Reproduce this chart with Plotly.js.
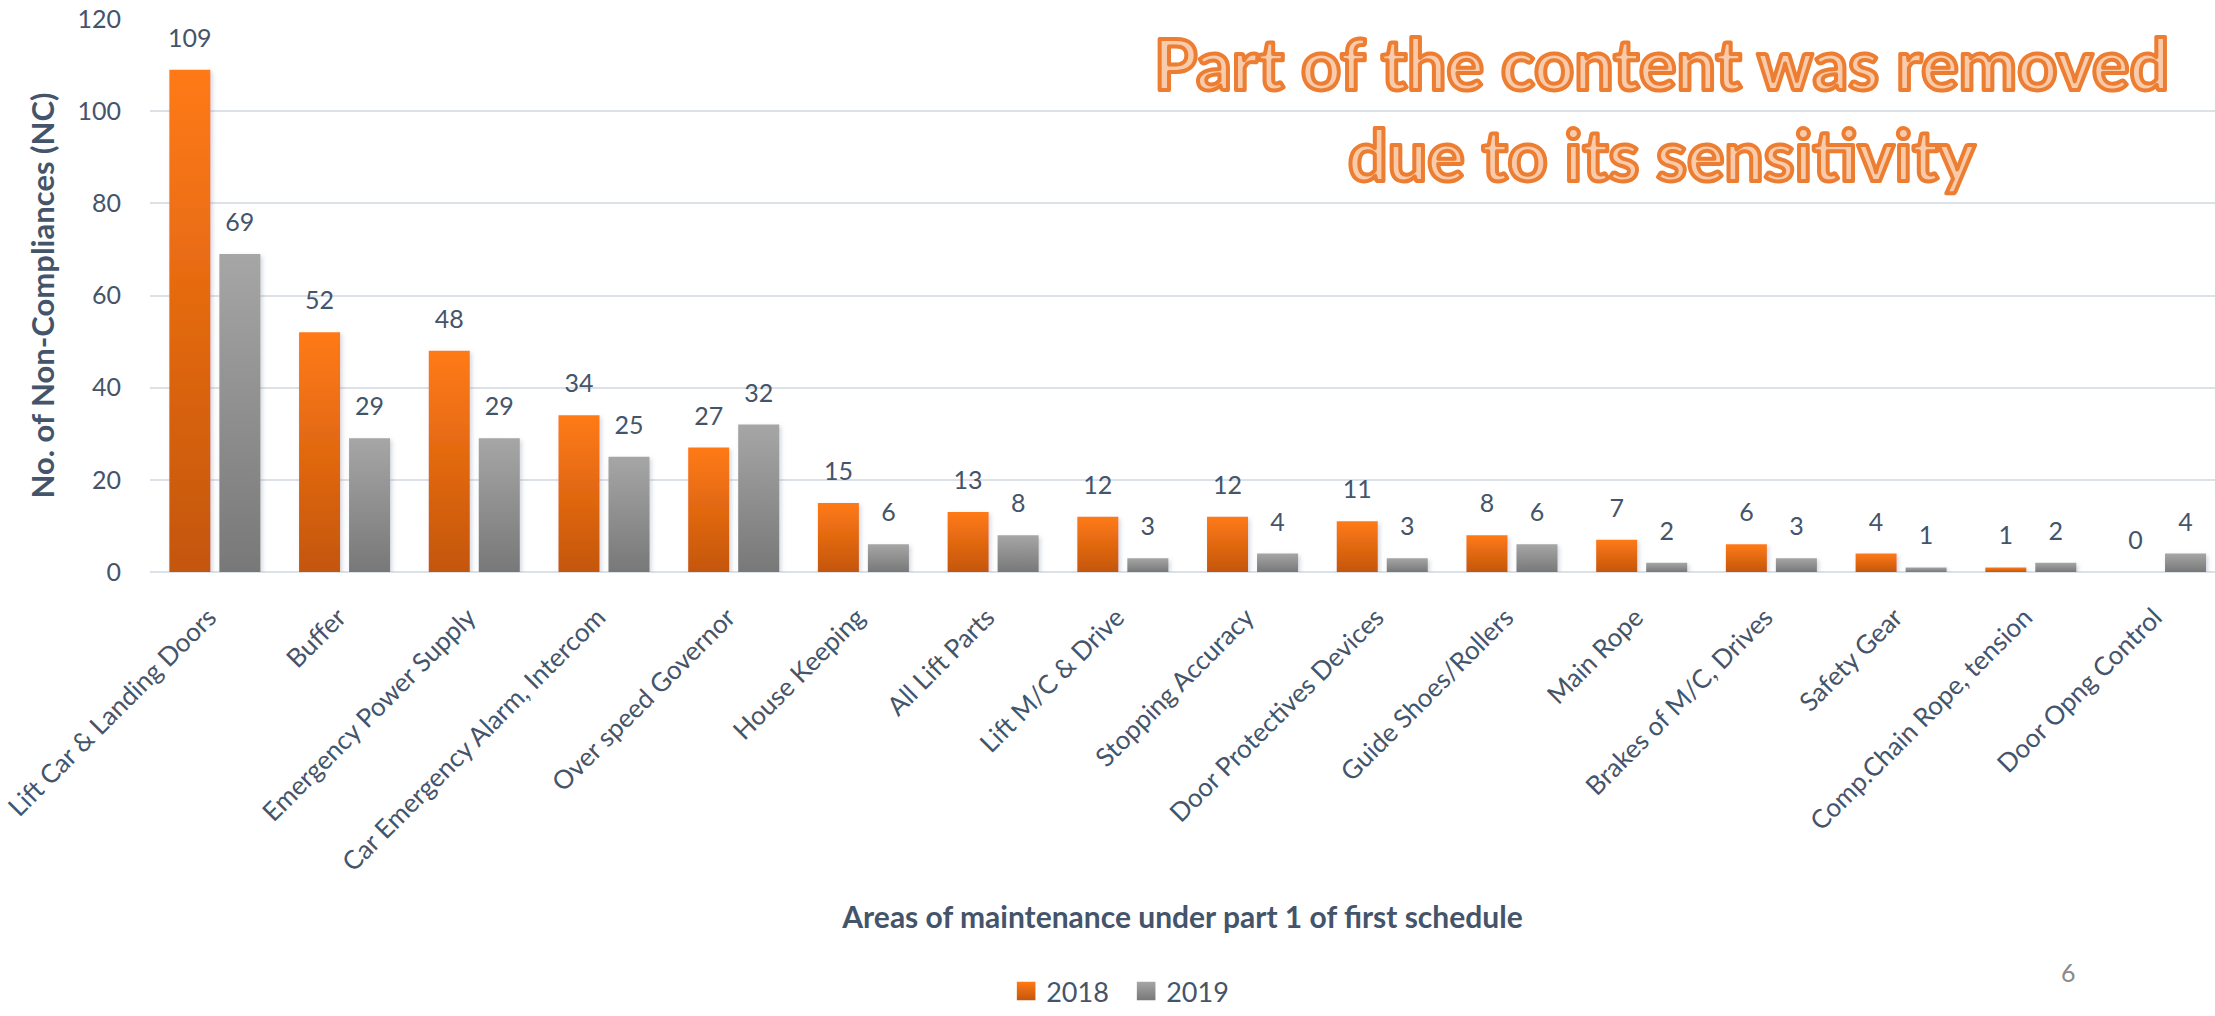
<!DOCTYPE html>
<html>
<head>
<meta charset="utf-8">
<script src="https://cdn.plot.ly/plotly-3.0.1.min.js"></script>
<style>
  html, body { margin: 0; padding: 0; background: #ffffff; }
  #chart { width: 2215px; height: 1016px; }
</style>
</head>
<body>
<div id="chart"></div>
<script>
// ---- Data ----
const categories = [
  "Lift Car & Landing Doors",
  "Buffer",
  "Emergency Power Supply",
  "Car Emergency Alarm, Intercom",
  "Over speed Governor",
  "House Keeping",
  "All Lift Parts",
  "Lift M/C & Drive",
  "Stopping Accuracy",
  "Door Protectives Devices",
  "Guide Shoes/Rollers",
  "Main Rope",
  "Brakes of M/C, Drives",
  "Safety Gear",
  "Comp.Chain Rope, tension",
  "Door Opng Control"
];
const values2018 = [109, 52, 48, 34, 27, 15, 13, 12, 12, 11, 8, 7, 6, 4, 1, 0];
const values2019 = [69, 29, 29, 25, 32, 6, 8, 3, 4, 3, 6, 2, 3, 1, 2, 4];
const seriesNames = ["2018", "2019"];
const yTickVals = [0, 20, 40, 60, 80, 100, 120];

const textColor = "#44546A";
const fontFamily = "Lato, 'Open Sans', sans-serif";

const traces = [
  {
    type: "bar",
    name: seriesNames[0],
    x: categories,
    y: values2018,
    text: values2018.map(String),
    textposition: "outside",
    constraintext: "none",
    cliponaxis: false,
    textfont: { family: fontFamily, size: 25, color: textColor },
    marker: { color: "#E8700F", line: { width: 0 } },
    hoverinfo: "x+y+name"
  },
  {
    type: "bar",
    name: seriesNames[1],
    x: categories,
    y: values2019,
    text: values2019.map(String),
    textposition: "outside",
    constraintext: "none",
    cliponaxis: false,
    textfont: { family: fontFamily, size: 25, color: textColor },
    marker: { color: "#909090", line: { width: 0 } },
    hoverinfo: "x+y+name"
  }
];

const layout = {
  width: 2215,
  height: 1016,
  margin: { l: 150, r: 0, t: 19, b: 444, pad: 0 },
  paper_bgcolor: "#ffffff",
  plot_bgcolor: "#ffffff",
  font: { family: fontFamily, size: 24, color: textColor },
  barmode: "group",
  bargap: 0.229,
  bargroupgap: 0.18,
  showlegend: true,
  legend: {
    orientation: "h",
    x: 0.4146,
    xanchor: "left",
    y: -0.759,
    yanchor: "middle",
    font: { family: fontFamily, size: 27, color: textColor },
    itemwidth: 30,
    entrywidth: 75,
    tracegroupgap: 0,
    bgcolor: "rgba(0,0,0,0)"
  },
  xaxis: {
    type: "category",
    range: [-0.5, 15.42],
    tickangle: -45,
    tickfont: { family: fontFamily, size: 26, color: textColor },
    ticklabelstandoff: 24,
    ticklabelshift: -6,
    showgrid: false,
    showline: false,
    zeroline: false,
    ticks: "",
    automargin: false,
    title: {
      text: "<b>Areas of maintenance under part 1 of first schedule</b>",
      font: { family: fontFamily, size: 30, color: textColor },
      standoff: 30
    }
  },
  yaxis: {
    range: [0, 120],
    tickvals: yTickVals,
    ticktext: yTickVals.map(String),
    tickfont: { family: fontFamily, size: 25, color: textColor },
    showgrid: true,
    gridcolor: "#DCE1E8",
    gridwidth: 2,
    zeroline: true,
    zerolinecolor: "#DCE1E8",
    zerolinewidth: 2,
    showline: false,
    ticks: "",
    ticklabelstandoff: 28,
    automargin: false,
    title: {
      text: "<b>No. of Non-Compliances (NC)</b>",
      font: { family: fontFamily, size: 31, color: textColor },
      standoff: 13
    }
  },
  annotations: [
    {
      xref: "paper", yref: "paper",
      x: 0.732, y: 0.838,
      xanchor: "center", yanchor: "middle",
      text: "<b>Part of the content was removed<br>due to its sensitivity</b>",
      showarrow: false,
      align: "center",
      font: { family: fontFamily, size: 70, color: "#F8CBAD" }
    },
    {
      xref: "paper", yref: "paper",
      x: 0.929, y: -0.723,
      xanchor: "center", yanchor: "middle",
      text: "6",
      showarrow: false,
      font: { family: fontFamily, size: 25, color: "#8A8A8A" }
    }
  ]
};

Plotly.newPlot("chart", traces, layout, { displayModeBar: false, staticPlot: true }).then(function (gd) {
  const svgNS = "http://www.w3.org/2000/svg";
  const svg = gd.querySelector(".main-svg");
  let defs = svg.querySelector("defs");
  if (!defs) { defs = document.createElementNS(svgNS, "defs"); svg.insertBefore(defs, svg.firstChild); }

  function addGradient(id, top, bottom) {
    const g = document.createElementNS(svgNS, "linearGradient");
    g.setAttribute("id", id);
    g.setAttribute("x1", "0"); g.setAttribute("y1", "0");
    g.setAttribute("x2", "0"); g.setAttribute("y2", "1");
    const s1 = document.createElementNS(svgNS, "stop");
    s1.setAttribute("offset", "0"); s1.setAttribute("stop-color", top);
    const s2 = document.createElementNS(svgNS, "stop");
    s2.setAttribute("offset", "1"); s2.setAttribute("stop-color", bottom);
    g.appendChild(s1); g.appendChild(s2);
    defs.appendChild(g);
  }
  addGradient("gradOrange", "#FF7A15", "#C4560D");
  addGradient("gradGray", "#A6A6A6", "#787878");

  const f = document.createElementNS(svgNS, "filter");
  f.setAttribute("id", "barShadow");
  f.setAttribute("x", "-20%"); f.setAttribute("y", "-20%");
  f.setAttribute("width", "150%"); f.setAttribute("height", "150%");
  const ds = document.createElementNS(svgNS, "feDropShadow");
  ds.setAttribute("dx", "2"); ds.setAttribute("dy", "2");
  ds.setAttribute("stdDeviation", "2");
  ds.setAttribute("flood-color", "#7F8FA6");
  ds.setAttribute("flood-opacity", "0.35");
  f.appendChild(ds);
  defs.appendChild(f);

  const grads = ["url(#gradOrange)", "url(#gradGray)"];
  const barTraces = gd.querySelectorAll(".barlayer .trace");
  barTraces.forEach(function (t, i) {
    t.querySelectorAll(".point path").forEach(function (p) {
      p.style.fill = grads[i];
      p.setAttribute("filter", "url(#barShadow)");
    });
    t.querySelectorAll(".point text").forEach(function (tx) {
      const tr = tx.getAttribute("transform") || "";
      tx.setAttribute("transform", "translate(0,-15) " + tr);
    });
  });

  const legendTraces = gd.querySelectorAll(".legend .traces");
  legendTraces.forEach(function (t, i) {
    t.querySelectorAll(".legendpoints path").forEach(function (p) {
      p.style.fill = grads[i];
      p.setAttribute("transform", (p.getAttribute("transform") || "") + " scale(1.55)");
    });
  });

  // outlined overlay text
  const ann = gd.querySelectorAll(".annotation-text");
  if (ann.length) {
    const a = ann[0];
    a.style.stroke = "#ED7D31";
    a.style.strokeWidth = "4px";
    a.style.strokeLinejoin = "round";
  }
});
</script>
</body>
</html>
